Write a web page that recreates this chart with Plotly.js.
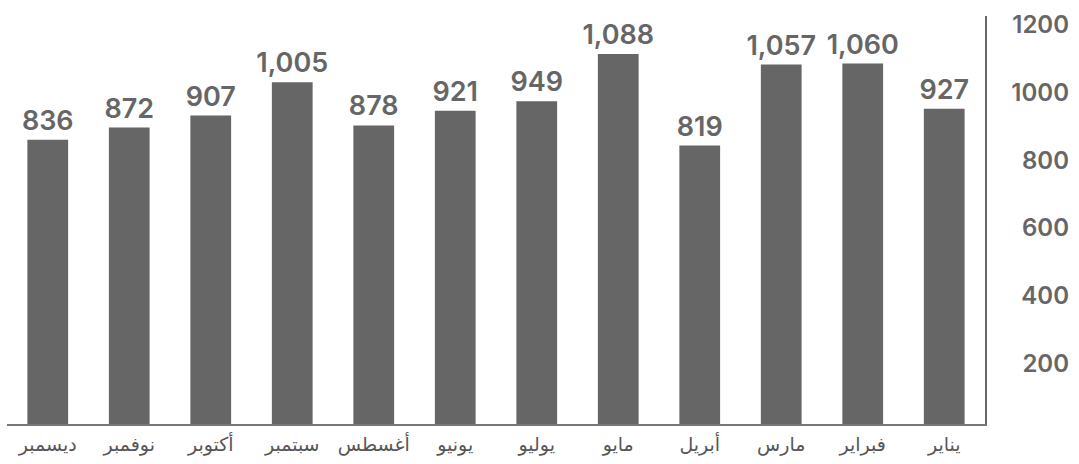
<!DOCTYPE html>
<html>
<head>
<meta charset="utf-8">
<script src="https://cdn.plot.ly/plotly-3.0.1.min.js"></script>
<style>html,body{margin:0;padding:0;background:#fff;}#chart{width:1079px;height:464px;}</style>
</head>
<body>
<div id="chart"></div>
<script>
// Categories in the order shown, from right (first) to left (last)
const months = ["يناير", "فبراير", "مارس", "أبريل", "مايو", "يوليو", "يونيو", "أغسطس", "سبتمبر", "أكتوبر", "نوفمبر", "ديسمبر"];
const values = [927, 1060, 1057, 819, 1088, 949, 921, 878, 1005, 907, 872, 836];
const yTicks = [200, 400, 600, 800, 1000, 1200];

const numFont = "Inter, Lato, sans-serif";

const bars = {
  type: "bar",
  x: months,
  y: values,
  marker: {color: "#666666"},
  texttemplate: "%{y:,}",
  textposition: "outside",
  constraintext: "none",
  cliponaxis: false,
  textfont: {family: numFont, size: 27, color: "#666666", weight: 600},
  hoverinfo: "skip"
};

// invisible companion trace so the right-aligned tick axis is drawn
const tickHolder = {
  type: "scatter",
  mode: "markers",
  x: months,
  y: values,
  yaxis: "y2",
  marker: {opacity: 0, size: 1},
  hoverinfo: "skip",
  showlegend: false
};

const layout = {
  width: 1079,
  height: 464,
  margin: {l: 7, r: 0, t: 16, b: 40},
  paper_bgcolor: "#ffffff",
  plot_bgcolor: "#ffffff",
  showlegend: false,
  bargap: 0.5,
  xaxis: {
    domain: [0, 0.9123],
    range: [months.length - 0.5, -0.5],
    showline: true,
    linecolor: "#777777",
    linewidth: 2,
    ticks: "",
    showgrid: false,
    tickfont: {family: "'DejaVu Sans', sans-serif", size: 19, color: "#555555"},
    ticklabelstandoff: 2
  },
  yaxis: {
    side: "right",
    anchor: "x",
    range: [0, 1200],
    showline: true,
    linecolor: "#666666",
    linewidth: 2,
    showgrid: false,
    zeroline: false,
    showticklabels: false,
    ticks: ""
  },
  yaxis2: {
    overlaying: "y",
    side: "left",
    anchor: "free",
    position: 0.9907,
    range: [0, 1200.5],
    tickmode: "array",
    tickvals: yTicks,
    ticktext: yTicks.map(String),
    showline: false,
    showgrid: false,
    zeroline: false,
    ticks: "",
    ticklabelshift: 8,
    tickfont: {family: numFont, size: 24, color: "#666666", weight: 600}
  }
};

Plotly.newPlot("chart", [bars, tickHolder], layout, {displayModeBar: false, staticPlot: true});
</script>
</body>
</html>
